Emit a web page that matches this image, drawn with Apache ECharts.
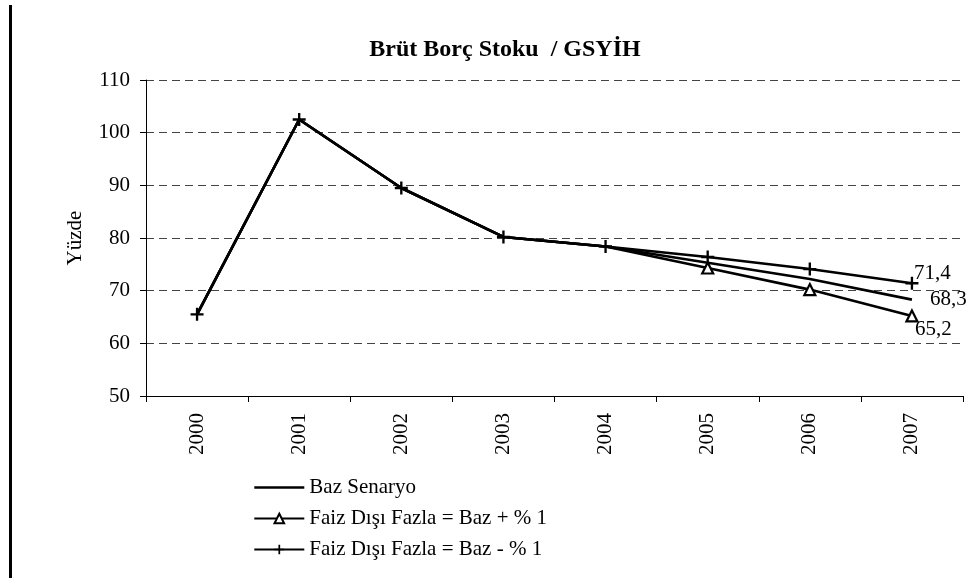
<!DOCTYPE html>
<html>
<head>
<meta charset="utf-8">
<script src="https://cdn.jsdelivr.net/npm/echarts@6/dist/echarts.min.js"></script>
<style>
  html, body { margin: 0; padding: 0; background: #fff; }
  #chart { position: absolute; left: 0; top: 0; width: 979px; height: 578px; }
  #bar { position: absolute; left: 9px; top: 5px; width: 3px; height: 573px; background: #000; z-index: 10; }
</style>
</head>
<body>
<div id="chart"></div>
<div id="bar"></div>
<script>
// yillar
var years = ['2000', '2001', '2002', '2003', '2004', '2005', '2006', '2007'];
// seriler
var bazSenaryo = [65.5, 102.5, 89.5, 80.2, 78.4, 75.3, 72.2, 68.3];
var bazArti = [65.5, 102.5, 89.5, 80.2, 78.4, 74.3, 70.2, 65.2];
var bazEksi = [65.5, 102.5, 89.5, 80.2, 78.4, 76.4, 74.1, 71.4];
var seriesNames = ['Baz Senaryo', 'Faiz Dışı Fazla = Baz + % 1', 'Faiz Dışı Fazla = Baz - % 1'];

var fontFam = '"Liberation Serif", "Times New Roman", serif';
var plusIcon = 'path://M4.1,0H5.9V4.1H10V5.9H5.9V10H4.1V5.9H0V4.1H4.1Z';

// son deger etiketi (virgullu)
function endLbl(offset) {
    return {
        show: true,
        offset: offset,
        distance: 5,
        formatter: function (p) { return String(p.value).replace('.', ','); },
        color: '#000',
        fontFamily: fontFam,
        fontSize: 21
    };
}

var myChart = echarts.init(document.getElementById('chart'));
var option = {
    backgroundColor: '#fff',
    animation: false,
    title: {
        text: 'Brüt Borç Stoku  / GSYİH',
        left: 500,
        textAlign: 'center',
        top: 33,
        textStyle: { fontFamily: fontFam, fontSize: 24, fontWeight: 'bold', color: '#000' }
    },
    legend: {
        orient: 'vertical',
        left: 253,
        top: 477,
        padding: 0,
        itemWidth: 50,
        itemHeight: 12,
        itemGap: 10,
        data: [
            { name: seriesNames[0], itemStyle: { opacity: 0 }, lineStyle: { width: 2.6, color: '#000' } },
            seriesNames[1],
            seriesNames[2]
        ],
        textStyle: { fontFamily: fontFam, fontSize: 21, lineHeight: 21, color: '#000' }
    },
    grid: { left: 146, right: 16, top: 80, bottom: 182 },
    xAxis: {
        type: 'category',
        data: years,
        boundaryGap: true,
        axisLine: { lineStyle: { color: '#000', width: 1 } },
        axisTick: { show: true, length: 6, lineStyle: { color: '#000' } },
        axisLabel: { rotate: 90, margin: 17, color: '#000', fontFamily: fontFam, fontSize: 21 }
    },
    yAxis: {
        type: 'value',
        min: 50,
        max: 110,
        interval: 10,
        name: 'Yüzde',
        nameLocation: 'middle',
        nameGap: 60,
        nameRotate: 90,
        nameTextStyle: { fontFamily: fontFam, fontSize: 21, color: '#000' },
        axisLine: { show: true, lineStyle: { color: '#000', width: 1 } },
        axisTick: { show: true, length: 6, lineStyle: { color: '#000' } },
        axisLabel: { color: '#000', fontFamily: fontFam, fontSize: 21, margin: 16 },
        splitLine: { lineStyle: { color: '#444', type: [8, 5], width: 1 } }
    },
    series: [
        {
            name: seriesNames[0],
            type: 'line',
            data: bazSenaryo,
            symbol: 'circle',
            symbolSize: 0,
            showAllSymbol: true,
            lineStyle: { color: '#000', width: 2.6 },
            itemStyle: { color: '#000' },
            endLabel: endLbl([13, 0]),
            z: 3
        },
        {
            name: seriesNames[1],
            type: 'line',
            data: bazArti,
            symbol: 'triangle',
            symbolSize: function (val, params) {
                // ilk yillarda ucgen + isaretinin altinda kaliyor
                return params.dataIndex >= 5 ? 11 : 0;
            },
            showAllSymbol: true,
            lineStyle: { color: '#000', width: 2.6 },
            itemStyle: { color: '#fff', borderColor: '#000', borderWidth: 2.2 },
            endLabel: endLbl([-2, 14]),
            z: 4
        },
        {
            name: seriesNames[2],
            type: 'line',
            data: bazEksi,
            symbol: plusIcon,
            symbolSize: 13,
            showAllSymbol: true,
            lineStyle: { color: '#000', width: 2.6 },
            itemStyle: { color: '#000' },
            endLabel: endLbl([-3, -10]),
            z: 5
        }
    ]
};
if (option && typeof option === "object") {
    myChart.setOption(option, true);
}
</script>
</body>
</html>
